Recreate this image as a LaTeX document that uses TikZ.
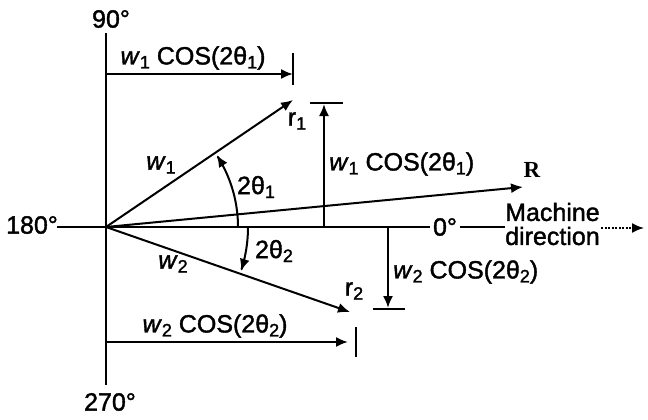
\documentclass[tikz,border=0pt]{standalone}
\usepackage{fontspec}
\setmainfont[FakeBold=1.5]{Liberation Sans}
\newfontfamily\serifR{Liberation Serif}
\usetikzlibrary{arrows.meta}
\newcommand{\lowsub}[1]{\raisebox{-0.3ex}{\fontsize{18}{18}\selectfont #1}}
\newcommand{\wcos}[1]{\textit{w}\lowsub{#1} COS(2θ\lowsub{#1})}
\begin{document}
\begin{tikzpicture}[x=1pt,y=-1pt,
  every node/.style={font=\fontsize{25}{22}\selectfont, inner sep=0pt},
  ln/.style={line width=2pt},
  arr/.style={ln, -{Latex[length=12pt,width=10pt]}},
  tick/.style={line width=2pt}]
\useasboundingbox (0,0) rectangle (648,420);
\fill[white] (0,0) rectangle (648,420);
% coordinates
\coordinate (O) at (106,227);
\coordinate (Vtop) at (106,33);
\coordinate (Vbot) at (106,385);
\coordinate (Hl) at (57,227);
\coordinate (Hr) at (430,227);
\coordinate (Sa) at (460,227);
\coordinate (Sb) at (505,227);
\coordinate (Da) at (601,228);
\coordinate (Db) at (644,228);
\coordinate (R1) at (293,100);
\coordinate (R2) at (350,312);
\coordinate (RR) at (523,187);
% axes
\draw[ln] (Vtop) -- (Vbot);
\draw[ln] (Hl) -- (Hr);
\draw[ln] (Sa) -- (Sb);
\draw[line width=1.8pt, dash pattern=on 2pt off 1.5pt, -{Latex[length=12pt,width=10pt]}] (Da) -- (Db);
\node (n90) at (111,19) {90°};
\node (n180) at (32,225) {180°};
\node (n270) at (110,402) {270°};
\node (n0) at (445,227) {0°};
\node[anchor=west] (mach) at (505,212) {Machine};
\node[anchor=west] (dirn) at (505,236) {direction};
% vectors
\draw[arr] (O) -- (R1);
\draw[arr] (O) -- (R2);
\draw[arr] (O) -- (RR);
\node (w1) at (161,165) {\textit{w}\lowsub{1}};
\node (w2) at (173,264) {\textit{w}\lowsub{2}};
\node (r1) at (297,121) {r\lowsub{1}};
\node (r2) at (354,291) {r\lowsub{2}};
\node[font=\serifR\bfseries\fontsize{23}{23}\selectfont] (Rl) at (532,170) {R};
% angle arcs
\draw[arr] plot[domain=0:33, samples=40] ({106+132*cos(\x)},{227-132*sin(\x)});
\draw[arr] plot[domain=0:18, samples=30] ({106+142*cos(\x)},{227+142*sin(\x)});
\node (t1) at (256,187) {2θ\lowsub{1}};
\node (t2) at (274,251) {2θ\lowsub{2}};
% top dimension
\coordinate (TA) at (106,74);
\coordinate (TB) at (293,74);
\draw[arr] (TA) -- (TB);
\draw[tick] (293,53) -- (293,85);
\node (lt) at (193,58) {\wcos{1}};
% right upper dimension
\coordinate (UA) at (324,227);
\coordinate (UB) at (324,104);
\draw[arr] (UA) -- (UB);
\draw[tick] (310,103) -- (343,103);
\node[anchor=west] (lu) at (329,164) {\wcos{1}};
% right lower dimension
\coordinate (LA) at (388,227);
\coordinate (LB) at (388,308);
\draw[arr] (LA) -- (LB);
\draw[tick] (373,309) -- (405,309);
\node[anchor=west] (ll) at (393,272) {\wcos{2}};
% bottom dimension
\coordinate (BA) at (106,342);
\coordinate (BB) at (348,342);
\draw[arr] (BA) -- (BB);
\draw[tick] (356,327) -- (356,357);
\node (lb) at (215,326) {\wcos{2}};
\end{tikzpicture}
\end{document}
